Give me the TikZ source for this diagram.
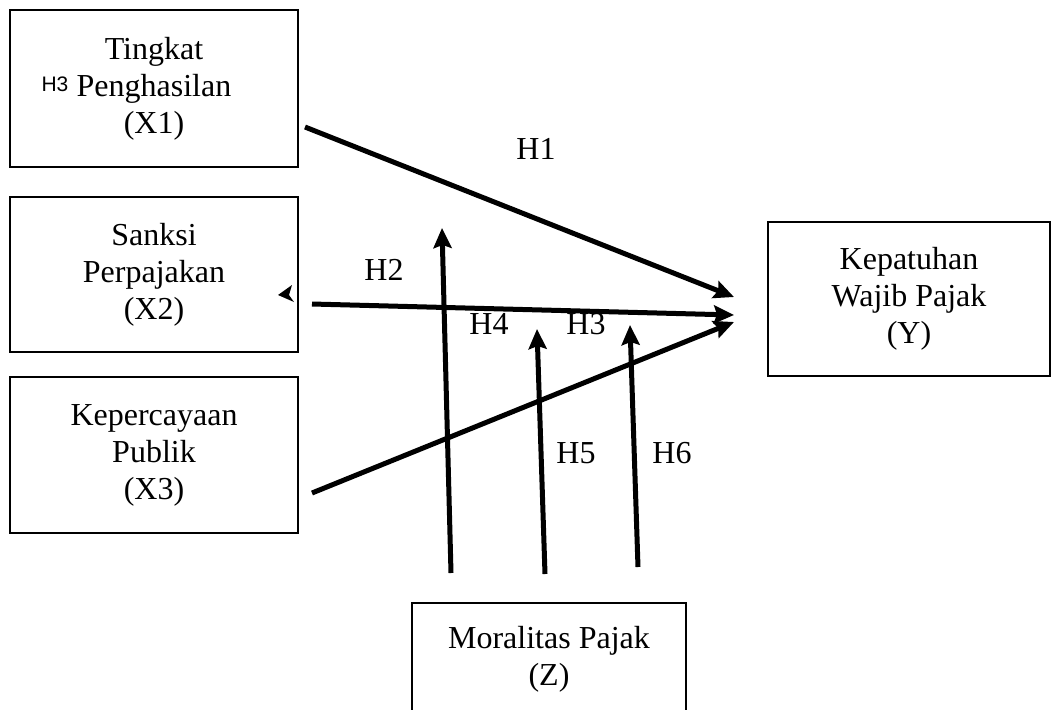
\documentclass[tikz,border=0pt]{standalone}
\usepackage{fontspec}
\setmainfont{Liberation Serif}
\setsansfont{Liberation Sans}
\usetikzlibrary{arrows.meta}
\begin{document}
\begin{tikzpicture}[x=0.5pt, y=-0.5pt,
    box/.style={draw, line width=1pt, align=center, inner sep=0pt,
      font=\fontsize{16}{18.5}\selectfont},
    lbl/.style={inner sep=0pt, font=\fontsize{16}{18.5}\selectfont},
    arr/.style={line width=2.5pt, -{Stealth[length=10pt, width=9pt, inset=1.5pt]}}]
    \useasboundingbox (0,0) rectangle (1056,709);
    \node[box, minimum width=144pt, minimum height=78.5pt] (x1) at (154,88.5) {Tingkat\\Penghasilan\\(X1)};
    \node[box, minimum width=144pt, minimum height=77.5pt] (x2) at (154,274.5) {Sanksi\\Perpajakan\\(X2)};
    \node[box, minimum width=144pt, minimum height=78pt] (x3) at (154,455) {Kepercayaan\\Publik\\(X3)};
    \node[box, minimum width=141pt, minimum height=77pt] (y) at (909,299) {Kepatuhan\\Wajib Pajak\\(Y)};
    \node[box, minimum width=137pt, minimum height=56.5pt] (z) at (549,659.5) {Moralitas Pajak\\(Z)};
    \node[inner sep=0pt, font=\sffamily\fontsize{10.5}{12}\selectfont] (h3x) at (55,84) {H3};
    % arrows
    \coordinate (s1) at (305,127);
    \coordinate (s2) at (312,304);
    \coordinate (s3) at (312,493);
    \coordinate (e1) at (734,297);
    \coordinate (e2) at (734,315);
    \coordinate (e3) at (734,322);
    \draw[arr] (s1) -- (e1);
    \draw[arr] (s2) -- (e2);
    \draw[arr] (s3) -- (e3);
    \coordinate (m1) at (451,573);
    \coordinate (m2) at (545,574);
    \coordinate (m3) at (638,567);
    \draw[arr] (m1) -- (442,228);
    \draw[arr] (m2) -- (537,329);
    \draw[arr] (m3) -- (630,325);
    \fill (278,295) -- (292,285) -- (289,295) -- (294,302) -- cycle;
    \node[lbl] (h1) at (536,149) {H1};
    \node[lbl] (h2) at (384,270) {H2};
    \node[lbl] (h4) at (489,324) {H4};
    \node[lbl] (h3) at (586,324) {H3};
    \node[lbl] (h5) at (576,453) {H5};
    \node[lbl] (h6) at (672,453) {H6};
\end{tikzpicture}
\end{document}
